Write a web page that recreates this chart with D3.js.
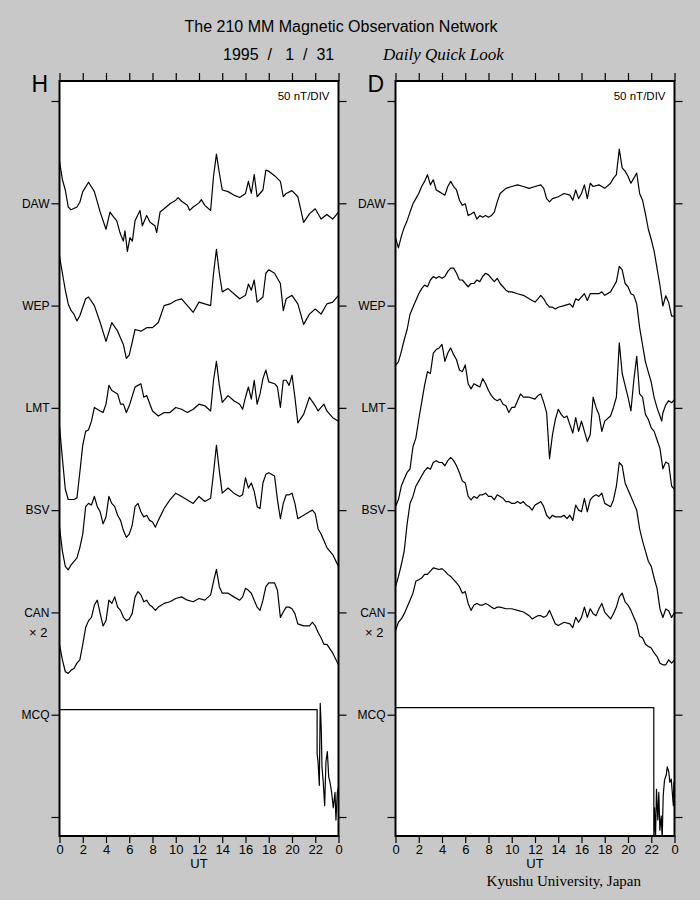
<!DOCTYPE html>
<html>
<head>
<meta charset="utf-8">
<script src="https://cdn.jsdelivr.net/npm/d3@7/dist/d3.min.js"></script>
<style>
  body { margin: 0; background: #c8c8c8; }
  svg { display: block; font-family: "Liberation Sans", Arial, sans-serif; }
</style>
</head>
<body>
<svg id="chart"></svg>
<script>
// stations, top to bottom
let stations = ['DAW', 'WEP', 'LMT', 'BSV', 'CAN', 'MCQ'];
let gains = [1, 1, 1, 1, 2, 1]; // CAN is drawn x2
let hourTicks = [0, 2, 4, 6, 8, 10, 12, 14, 16, 18, 20, 22, 24];
let nTPerDiv = 50;

// H component, [UT hour, nT from station baseline]
let dawH = [[0,20.7],[0.25,11.5],[0.5,6.5],[0.75,-1.8],[1,-3.2],[1.5,-1.8],[1.75,0.5],[2,5.7],[2.5,10.3],[3,5.7],[3.5,-4.3],[4,-12.7],[4.34,-4.3],[4.63,-6.5],[4.92,-8.5],[5.2,-14.3],[5.49,-18.5],[5.63,-13.5],[5.84,-23.5],[6.06,-16.8],[6.27,-18.5],[6.5,-8.5],[6.92,-3.5],[7.13,-11],[7.5,-6],[7.79,-9.3],[8.21,-11],[8.36,-14.3],[8.65,-4.3],[9,-2.7],[9.5,-0.2],[10,1.5],[10.2,2.8],[10.5,1],[11,-1],[11.2,-3.5],[11.5,-1.8],[12,0.2],[12.2,1.8],[12.5,-1],[13,-3.5],[13.25,13.2],[13.5,24],[13.75,14.8],[14,6.5],[14.5,5.7],[15,4],[15.5,2.8],[16,4.8],[16.25,10.7],[16.5,4.8],[16.75,14],[17,3.2],[17.5,6.5],[17.75,16.2],[18,15.7],[18.5,13.5],[19,10.7],[19.25,3.2],[19.5,4.8],[20,6.2],[20.5,3.2],[21,-9.3],[21.5,-5.2],[22,-2.7],[22.5,-7.7],[23,-5.5],[23.5,-7.7],[24,-4.3]];
let wepH = [[0,24.2],[0.25,15.8],[0.5,7.5],[0.75,0.8],[1,-2.5],[1.25,-4.2],[1.5,-7.5],[1.75,-5],[2,-0.8],[2.25,3.3],[2.5,4.2],[3,0],[3.5,-8.3],[4,-17.5],[4.5,-8.3],[5,-12.5],[5.5,-19.2],[5.75,-25.8],[6,-24.2],[6.5,-11.7],[7,-12.5],[7.5,-10.8],[8,-10.8],[8.5,-8.3],[9,0],[9.5,0.8],[10,2.5],[10.5,3.3],[11,0],[11.5,-3.3],[12,1.7],[12.5,0.8],[13,0],[13.25,15.8],[13.5,27.5],[13.75,15.8],[14,6.7],[14.5,8.3],[15,5.8],[15.5,3.3],[16,5],[16.25,10.5],[16.5,7.5],[16.75,12.5],[17,1.7],[17.5,4.2],[17.75,15.8],[18,17.5],[18.5,15.8],[19,10.8],[19.25,-2.5],[19.5,3.3],[20,5],[20.5,0.8],[21,-9.2],[21.5,-4.2],[22,-1.7],[22.5,-4.2],[23,0.8],[23.5,1.7],[24,5]];
let lmtH = [[0,-9],[0.25,-24.8],[0.5,-39.8],[0.75,-44.8],[1,-44.8],[1.25,-44.8],[1.5,-44],[1.75,-31.5],[2,-18.2],[2.25,-11.5],[2.5,-10.7],[2.75,-6.5],[3,0.2],[3.5,-1.5],[3.75,-2.3],[4,1.8],[4.25,11],[4.5,8.5],[5,6.8],[5.25,1.8],[5.5,1.8],[5.75,-2.3],[6,1],[6.5,10.2],[6.75,11],[7,11.8],[7.25,5.2],[7.5,6],[8,-1.5],[8.5,-4],[9,-2.3],[9.5,-2.3],[10,0.2],[10.5,-0.7],[11,-2.3],[11.5,-0.7],[12,1.8],[12.5,1],[13,-1.5],[13.25,13.5],[13.5,22.7],[13.75,11],[14,2.7],[14.5,6],[15,3.5],[15.5,1.8],[15.75,-0.7],[16,5.2],[16.25,10.2],[16.5,4.3],[16.75,13.5],[17,1.8],[17.25,6.8],[17.5,14.3],[17.75,18.5],[18,12.7],[18.5,11.8],[18.75,10.2],[19,0.2],[19.25,13.5],[19.5,13.5],[19.75,11],[20,16],[20.25,5.2],[20.5,-7.3],[21,-3.2],[21.5,5.2],[22,1],[22.25,-1.5],[22.5,0.2],[22.75,1.8],[23,-1.5],[23.5,-4.8],[24,-6.5]];
let bsvH = [[0,-8.3],[0.25,-20],[0.5,-27.5],[0.75,-29.2],[1,-26.7],[1.25,-25],[1.5,-23.3],[1.75,-18.3],[2,-11.7],[2.25,1.7],[2.5,3.3],[2.75,2.5],[3,6.7],[3.25,1.7],[3.5,-0.8],[3.75,-6.7],[4,-3.3],[4.25,6.7],[4.5,3.3],[4.75,1.7],[5,-2.5],[5.25,-5],[5.5,-10],[5.75,-13.3],[6,-11.7],[6.25,-7.5],[6.5,1.7],[6.75,3.3],[7,-0.8],[7.25,-3.3],[7.5,-2.5],[7.75,-5],[8,-5.8],[8.25,-8.3],[8.5,-5],[9,0.8],[9.5,5],[10,8.3],[10.5,6.7],[11,5],[11.5,3.3],[12,6.7],[12.5,4.2],[13,5.8],[13.25,18.3],[13.5,31.7],[13.75,19.2],[14,8.3],[14.5,10.8],[15,8.3],[15.5,6.7],[15.75,7.5],[16,15.8],[16.25,10.8],[16.5,13.3],[16.75,9.2],[17,1.7],[17.25,0.8],[17.5,13.3],[17.75,17.5],[18,18.3],[18.5,16.7],[18.75,5],[19,-4.2],[19.25,3.3],[19.5,7.5],[19.75,7.5],[20,8.3],[20.25,3.3],[20.5,-4.2],[21,-2.5],[21.5,-0.8],[21.75,0],[22,-1.7],[22.25,-9.2],[22.5,-11.7],[22.75,-15],[23,-18.3],[23.5,-21.7],[24,-27.5]];
let canH = [[0,-7.8],[0.25,-11.6],[0.5,-14.5],[0.75,-14.9],[1,-14.1],[1.25,-13.7],[1.5,-12.4],[1.75,-11.6],[2,-7.8],[2.25,-3.7],[2.5,-2],[2.75,-1.2],[3,1.8],[3.25,3],[3.5,-0.3],[3.75,-3.3],[4,-2],[4.25,3],[4.5,2.2],[4.75,3.8],[5,1.3],[5.25,0.5],[5.5,-1.2],[5.75,-2],[6,-1.6],[6.25,-0.3],[6.5,3.8],[6.75,5.1],[7,4.3],[7.25,2.6],[7.5,3],[7.75,1.8],[8,1.3],[8.25,0.5],[8.5,1.3],[9,2.2],[9.5,2.6],[10,3.4],[10.5,3.8],[11,3],[11.5,2.6],[12,3.4],[12.5,3],[13,4.3],[13.25,7.6],[13.5,10.5],[13.75,6.3],[14,4.7],[14.5,4.7],[15,3.8],[15.5,3],[15.75,3.8],[16,5.9],[16.25,5.4],[16.5,4.7],[16.75,3],[17,1.3],[17.25,0.5],[17.5,3],[17.75,6.3],[18,7.2],[18.5,7.2],[18.75,5.4],[19,-1.2],[19.25,0.1],[19.5,1.3],[19.75,1.3],[20,0.9],[20.25,-0.3],[20.5,-2.8],[21,-3.3],[21.5,-3.3],[21.75,-2.4],[22,-3.3],[22.25,-4.9],[22.5,-6.2],[22.75,-7.8],[23,-7.8],[23.5,-9.9],[24,-12.8]];
let mcqH = [[0,2.5],[22.16,2.5],[22.16,-19],[22.24,-23],[22.35,-34.5],[22.43,5.5],[22.52,-8],[22.58,-25.5],[22.69,-33],[22.81,-44.5],[22.92,-23],[23.04,-18],[23.16,-30.5],[23.27,-33],[23.41,-38],[23.55,-45.5],[23.7,-38],[23.78,-51.5],[23.9,-38],[24,-35.5]];

// D component
let dawD = [[0,-16.8],[0.25,-21.8],[0.5,-16.2],[0.75,-11.8],[1,-8.5],[1.25,-4.3],[1.5,-0.2],[1.75,2.3],[2,4.8],[2.25,8.2],[2.5,10.7],[2.75,14],[3,9],[3.25,11.5],[3.5,6.5],[3.75,5.7],[4,4.8],[4.25,4],[4.5,8.2],[4.75,10.7],[5,8.2],[5.25,6.5],[5.5,1.5],[5.75,-1],[6,-0.2],[6.25,-6],[6.5,-5.2],[6.75,-4.3],[7,-7.7],[7.25,-6],[7.5,-6.8],[7.75,-6],[8,-6.8],[8.25,-6],[8.5,-4.3],[8.75,0.7],[9,4.8],[9.5,7.3],[10,8.2],[10.5,9],[11,8.2],[11.5,7.3],[12,8.2],[12.5,9],[12.75,7.3],[13,2.3],[13.25,0.7],[13.5,2.3],[14,3.2],[14.5,4.8],[15,4],[15.25,1.5],[15.5,6.5],[15.75,2.3],[16,4.8],[16.25,9],[16.5,2.3],[16.75,9.8],[17,8.2],[17.5,9],[17.75,8.2],[18,7.3],[18.5,9.8],[18.75,12.3],[19,14],[19.25,26.5],[19.5,17.3],[19.75,15.7],[20,13.2],[20.25,9.8],[20.5,12.3],[20.75,14.8],[21,4.8],[21.25,1.5],[21.5,-5.2],[21.75,-12.7],[22,-17.7],[22.25,-23.5],[22.5,-31.8],[22.75,-40.2],[23,-50.2],[23.25,-45.2],[23.5,-48.5],[23.75,-55.2],[24,-55.2]];
let wepD = [[0,-29.2],[0.25,-27.5],[0.5,-22.5],[0.75,-16.7],[1,-11.7],[1.25,-4.2],[1.5,-0.8],[1.75,2.5],[2,5.8],[2.25,8.3],[2.5,10],[2.75,9.2],[3,12.5],[3.25,14.2],[3.5,13.3],[3.75,14.2],[4,13.3],[4.25,14.2],[4.5,16.7],[4.75,18.3],[5,18.3],[5.25,15.8],[5.5,12.5],[5.75,12.5],[6,10.8],[6.25,9.2],[6.5,10.8],[6.75,10.8],[7,12.5],[7.25,11.7],[7.5,14.2],[7.75,15.8],[8,15],[8.25,13.3],[8.5,11.7],[8.75,13.3],[9,10.8],[9.25,9.2],[9.5,7.5],[9.75,6.7],[10,6.7],[10.5,5.8],[11,5],[11.25,4.2],[11.5,3.3],[11.75,2.5],[12,1.7],[12.25,3.3],[12.5,5],[12.75,3.3],[13,0.8],[13.25,-0.8],[13.5,-0.8],[13.75,-1.7],[14,-0.8],[14.5,0],[15,0.8],[15.25,-0.8],[15.5,3.3],[15.75,2.5],[16,4.2],[16.25,5.8],[16.5,2.5],[16.75,5.8],[17,5.8],[17.5,5.8],[17.75,6.7],[18,5],[18.5,6.7],[18.75,9.2],[19,11.7],[19.25,19.2],[19.5,17.5],[19.75,10.8],[20,9.2],[20.25,5.8],[20.5,5],[20.75,0.8],[21,-10.8],[21.25,-19.2],[21.5,-27.5],[21.75,-32.5],[22,-37.5],[22.25,-45],[22.5,-50],[22.75,-54],[22.9,-56.5],[23,-52.5],[23.25,-48.5],[23.5,-46.5],[23.75,-47.5],[24,-46]];
let lmtD = [[0,-48.2],[0.25,-44.8],[0.5,-38.2],[0.75,-34.8],[1,-31.5],[1.25,-29.8],[1.5,-19],[1.75,-14.8],[2,-5.7],[2.25,2.7],[2.5,11],[2.75,17.7],[3,16.8],[3.25,26.8],[3.5,28.5],[3.75,29.3],[4,31],[4.25,22.7],[4.5,26.8],[4.75,29.3],[5,26],[5.25,23.5],[5.5,18.5],[5.75,17.7],[6,21],[6.25,11.8],[6.5,9.3],[6.75,11.8],[7,11],[7.25,10.2],[7.5,14.3],[7.75,11.8],[8,8.5],[8.25,6],[8.5,4.3],[8.75,3.5],[9,4.3],[9.25,1.8],[9.5,1],[9.75,-2.3],[10,0.2],[10.25,0.2],[10.5,3.5],[10.75,6.8],[11,5.2],[11.5,5.2],[12,4.3],[12.25,6],[12.5,6.8],[12.75,2.7],[13,-2.3],[13.25,-24.8],[13.5,-13.2],[13.75,-5.7],[14,-0.7],[14.25,-3.2],[14.5,-4.8],[14.75,-4],[15,-8.2],[15.25,-12.3],[15.5,-4.8],[15.75,-11.5],[16,-6.5],[16.25,-11.5],[16.5,-16.5],[16.75,-13.2],[17,5.2],[17.25,0.2],[17.5,-3.2],[17.75,-11.5],[18,-6.5],[18.5,-4],[18.75,0.2],[19,5.2],[19.25,31.8],[19.5,16.8],[19.75,11],[20,5.2],[20.25,-1.5],[20.5,13.5],[20.75,25.2],[21,6.8],[21.25,5.2],[21.5,-3.2],[21.75,-5.7],[22,-9.8],[22.25,-11.5],[22.5,-15.7],[22.75,-19.8],[23,-29.8],[23.25,-26.5],[23.5,-27.3],[23.75,-38.2],[24,-39.8]];
let bsvD = [[0,-37.5],[0.25,-32.5],[0.5,-26.7],[0.75,-20],[1,-6.7],[1.25,3.3],[1.5,6.7],[1.75,11.7],[2,14.2],[2.25,16.7],[2.5,19.2],[2.75,20.8],[3,20],[3.25,23.3],[3.5,24.2],[3.75,23.3],[4,23.3],[4.25,21.7],[4.5,24.2],[4.75,25.8],[5,24.2],[5.25,21.7],[5.5,18.3],[5.75,14.2],[6,13.3],[6.25,6.7],[6.5,5],[6.75,6.7],[7,5.8],[7.25,7.5],[7.5,7.5],[7.75,8.3],[8,6.7],[8.25,6.7],[8.5,5],[8.75,7.5],[9,6.7],[9.25,5.8],[9.5,4.2],[9.75,4.2],[10,3.3],[10.25,3.3],[10.5,4.2],[10.75,3.3],[11,4.2],[11.25,2.5],[11.5,1.7],[11.75,0],[12,2.5],[12.25,3.3],[12.5,4.2],[12.75,1.7],[13,-2.5],[13.25,-4.2],[13.5,-2.5],[13.75,-3.3],[14,-3.3],[14.25,-3.3],[14.5,-2.5],[14.75,-4.2],[15,-2.5],[15.25,-5],[15.5,2.5],[15.75,0],[16,-0.8],[16.25,5.8],[16.5,-0.8],[16.75,5],[17,6.7],[17.25,7.5],[17.5,6.7],[17.75,8.3],[18,3.3],[18.5,1.7],[18.75,5],[19,11.7],[19.25,23.3],[19.5,21.7],[19.75,13.3],[20,10],[20.25,6.7],[20.5,3.3],[20.75,0],[21,-9.2],[21.25,-15],[21.5,-20],[21.75,-25],[22,-27.5],[22.25,-33.3],[22.5,-38.3],[22.75,-48.3],[23,-52.5],[23.25,-48.3],[23.5,-49.2],[23.75,-52.5],[24,-50]];
let canD = [[0,-4.5],[0.25,-2.4],[0.5,-1.6],[0.75,-0.3],[1,1.3],[1.25,3],[1.5,4.7],[1.75,7.6],[2,8],[2.25,8.4],[2.5,9.3],[2.75,9.3],[3,10.1],[3.25,10.9],[3.5,10.7],[3.75,10.5],[4,10.7],[4.25,10.1],[4.5,9.3],[4.75,8.8],[5,8],[5.25,7.2],[5.5,6.3],[5.75,4.7],[6,5.1],[6.25,2.2],[6.5,0.5],[6.75,1.8],[7,2.2],[7.25,1.8],[7.5,1.8],[7.75,2.2],[8,1.8],[8.25,1.3],[8.5,0.9],[8.75,1.3],[9,1.3],[9.5,0.9],[10,0.9],[10.5,0.5],[11,0.1],[11.25,-0.3],[11.5,-0.8],[11.75,-1.6],[12,-1.2],[12.25,-0.8],[12.5,-0.8],[12.75,-1.2],[13,-0.8],[13.25,0.5],[13.5,-1.2],[13.75,-2.8],[14,-3.2],[14.5,-2.4],[15,-2.8],[15.25,-3.7],[15.5,-1.2],[15.75,-2.4],[16,-1.2],[16.25,1.3],[16.5,-1.2],[16.75,0.9],[17,-0.3],[17.25,-0.8],[17.5,0.9],[17.75,2.2],[18,0.1],[18.5,-1.6],[18.75,-0.3],[19,1.3],[19.25,3.8],[19.5,4.7],[19.75,2.6],[20,1.8],[20.25,0.5],[20.5,-1.2],[20.75,-2.8],[21,-5.8],[21.25,-6.2],[21.5,-7.8],[21.75,-8.3],[22,-8.7],[22.25,-9.9],[22.5,-10.8],[22.75,-12.4],[23,-12.8],[23.25,-12.8],[23.5,-11.6],[23.75,-12.4],[24,-11.6]];
let mcqD = [[0,3.5],[22.22,3.5],[22.22,-61],[22.28,-45.5],[22.37,-60.5],[22.45,-36.5],[22.57,-51.5],[22.65,-38],[22.74,-56.5],[22.86,-49.5],[22.94,-60.5],[23.03,-39.5],[23.14,-32],[23.29,-29.5],[23.38,-25.5],[23.51,-28],[23.6,-33],[23.72,-31.5],[23.81,-38],[23.9,-44.5],[23.95,-33],[24,-38]];

let config = { svg: {}, plot: {} };
config.svg.width = 700;
config.svg.height = 900;
config.plot.top = 81;
config.plot.bottom = 836;
config.plot.divTop = 101;
config.plot.divBottom = 817;

let panels = [
  { id: 'h', letter: 'H', x0: 59.5, x1: 338.5, traces: [dawH, wepH, lmtH, bsvH, canH, mcqH] },
  { id: 'd', letter: 'D', x0: 395.5, x1: 674.5, traces: [dawD, wepD, lmtD, bsvD, canD, mcqD] }
];

let svg = d3.select('#chart')
  .attr('width', config.svg.width)
  .attr('height', config.svg.height);

svg.append('rect')
  .attr('width', config.svg.width)
  .attr('height', config.svg.height)
  .attr('fill', '#c8c8c8');

// division scale: 0 = top tick, 1..6 = stations, 7 = bottom tick
let divScale = d3.scaleLinear()
  .domain([0, 7])
  .range([config.plot.divTop, config.plot.divBottom]);
let pxPerNT = (divScale(1) - divScale(0)) / nTPerDiv;

// titles
svg.append('text')
  .attr('x', 341).attr('y', 32)
  .attr('text-anchor', 'middle')
  .style('font-size', '16px')
  .text('The 210 MM Magnetic Observation Network');

svg.append('text')
  .attr('x', 223).attr('y', 60)
  .style('font-size', '16px')
  .style('white-space', 'pre')
  .text('1995  /   1  /  31');

svg.append('text')
  .attr('x', 383).attr('y', 60)
  .style('font-family', '"Liberation Serif", "Times New Roman", serif')
  .style('font-style', 'italic')
  .style('font-size', '17px')
  .text('Daily Quick Look');

svg.append('text')
  .attr('x', 641).attr('y', 886)
  .attr('text-anchor', 'end')
  .style('font-family', '"Liberation Serif", "Times New Roman", serif')
  .style('font-size', '15px')
  .text('Kyushu University, Japan');

panels.forEach(function(p) {
  let x = d3.scaleLinear().domain([0, 24]).range([p.x0, p.x1]);
  let g = svg.append('g').attr('id', 'panel-' + p.id);

  g.append('rect')
    .attr('x', p.x0).attr('y', config.plot.top)
    .attr('width', p.x1 - p.x0)
    .attr('height', config.plot.bottom - config.plot.top)
    .attr('fill', '#fff');

  g.append('clipPath').attr('id', 'clip-' + p.id)
    .append('rect')
    .attr('x', p.x0).attr('y', config.plot.top)
    .attr('width', p.x1 - p.x0)
    .attr('height', config.plot.bottom - config.plot.top);

  // traces
  let traces = g.append('g').attr('clip-path', 'url(#clip-' + p.id + ')');
  p.traces.forEach(function(data, i) {
    let base = divScale(i + 1);
    let line = d3.line()
      .x(d => x(d[0]))
      .y(d => base - d[1] * gains[i] * pxPerNT);
    traces.append('path')
      .datum(data)
      .attr('fill', 'none')
      .attr('stroke', '#000')
      .attr('stroke-width', 1.2)
      .attr('stroke-linejoin', 'round')
      .attr('d', line);
  });

  // frame
  g.append('rect')
    .attr('x', p.x0).attr('y', config.plot.top)
    .attr('width', p.x1 - p.x0)
    .attr('height', config.plot.bottom - config.plot.top)
    .attr('fill', 'none')
    .attr('stroke', '#000')
    .attr('stroke-width', 2);

  // time axes
  let bottomAxis = d3.axisBottom(x).tickValues(hourTicks).tickSize(7).tickPadding(2)
    .tickFormat(d => d % 24);
  let bottom = g.append('g').attr('transform', translate(0, config.plot.bottom)).call(bottomAxis);

  let topAxis = d3.axisTop(x).tickValues(hourTicks).tickSize(8).tickFormat('');
  let top = g.append('g').attr('transform', translate(0, config.plot.top)).call(topAxis);

  // station axes
  let leftAxis = d3.axisLeft(divScale).tickValues(d3.range(8)).tickSize(8).tickPadding(2)
    .tickFormat(i => (i >= 1 && i <= 6) ? stations[i - 1] : '');
  let left = g.append('g').attr('transform', translate(p.x0, 0)).call(leftAxis);

  let rightAxis = d3.axisRight(divScale).tickValues(d3.range(8)).tickSize(8).tickFormat('');
  let right = g.append('g').attr('transform', translate(p.x1, 0)).call(rightAxis);

  [bottom, top, left, right].forEach(function(a) {
    a.select('.domain').remove();
    a.selectAll('line').attr('stroke', '#000').attr('stroke-width', 1.2);
    a.selectAll('text')
      .attr('fill', '#000')
      .style('font-family', '"Liberation Sans", Arial, sans-serif')
      .style('font-size', '12px');
  });
  bottom.selectAll('text').style('font-size', '13px');

  g.append('text')
    .attr('x', x(12)).attr('y', 868)
    .attr('text-anchor', 'middle')
    .style('font-size', '13px')
    .text('UT');

  g.append('text')
    .attr('x', p.x0 - 12).attr('y', divScale(5) + 25)
    .attr('text-anchor', 'end')
    .style('font-size', '13px')
    .style('white-space', 'pre')
    .text('\u00d7 2');

  g.append('text')
    .attr('x', p.x0 - 28).attr('y', 92)
    .style('font-size', '23px')
    .text(p.letter);

  g.append('text')
    .attr('x', p.x1 - 9).attr('y', 100)
    .attr('text-anchor', 'end')
    .style('font-size', '11.5px')
    .text('50 nT/DIV');
});

// helper method to make translating easier
function translate(x, y) {
  return 'translate(' + x + ',' + y + ')';
}
</script>
</body>
</html>
